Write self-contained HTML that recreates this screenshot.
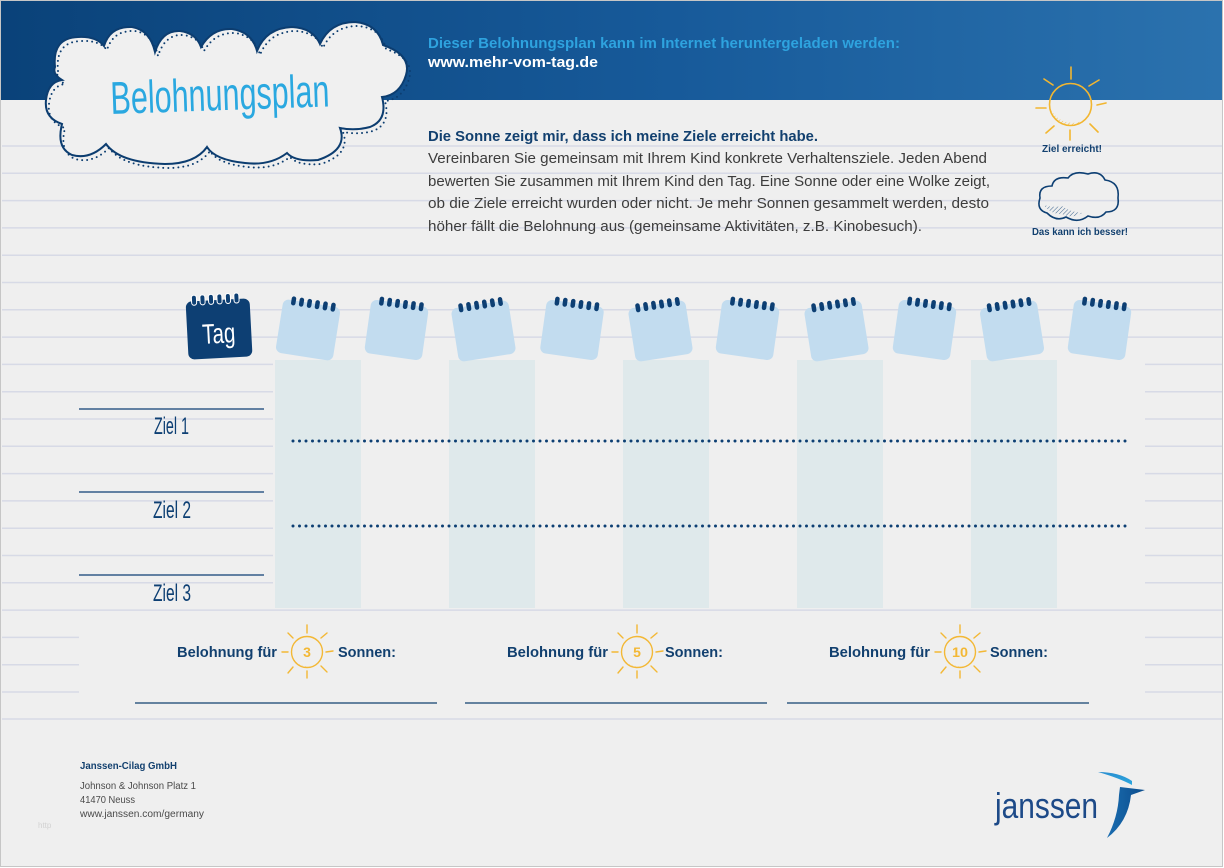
<!DOCTYPE html>
<html><head><meta charset="utf-8"><style>
html,body{margin:0;padding:0;background:#fff;}
svg{display:block;}
text{font-family:"Liberation Sans",sans-serif;}
</style></head><body>
<svg width="1224" height="868" viewBox="0 0 1224 868" xmlns="http://www.w3.org/2000/svg">
<defs>
<linearGradient id="hdr" x1="0" x2="1" y1="0" y2="0">
<stop offset="0" stop-color="#0a4279"/>
<stop offset="0.55" stop-color="#175a9a"/>
<stop offset="1" stop-color="#2b72ae"/>
</linearGradient>
<linearGradient id="sw" x1="0" y1="0" x2="0" y2="1">
<stop offset="0" stop-color="#2a8fd0"/>
<stop offset="1" stop-color="#2ba8e0"/>
</linearGradient>
<linearGradient id="sw2" x1="0" y1="0" x2="1" y2="0">
<stop offset="0" stop-color="#1a6db0"/>
<stop offset="1" stop-color="#0b4c8c"/>
</linearGradient>
<pattern id="hy" patternUnits="userSpaceOnUse" width="3" height="3" patternTransform="rotate(45)">
<line x1="0" y1="0" x2="0" y2="3" stroke="#f2b630" stroke-width="0.9"/>
</pattern>
<pattern id="hn" patternUnits="userSpaceOnUse" width="3" height="3" patternTransform="rotate(45)">
<line x1="0" y1="0" x2="0" y2="3" stroke="#0d3f73" stroke-width="0.8"/>
</pattern>
</defs>

<rect width="1224" height="868" fill="#ffffff"/>
<rect x="0.5" y="0.5" width="1222" height="866" fill="#efefef" stroke="#c6c6c6" stroke-width="1"/>

<rect x="1" y="1" width="1221" height="99" fill="url(#hdr)"/>

<g stroke="#d7dae6" stroke-width="1.5">
<line x1="2" x2="1222" y1="146" y2="146"/>
<line x1="2" x2="1222" y1="173.3" y2="173.3"/>
<line x1="2" x2="1222" y1="200.6" y2="200.6"/>
<line x1="2" x2="1222" y1="227.9" y2="227.9"/>
<line x1="2" x2="1222" y1="255.2" y2="255.2"/>
<line x1="2" x2="1222" y1="282.5" y2="282.5"/>
<line x1="2" x2="1222" y1="309.8" y2="309.8"/>
<line x1="2" x2="1222" y1="337.1" y2="337.1"/>
<line x1="2" x2="1222" y1="364.4" y2="364.4"/>
<line x1="2" x2="1222" y1="391.7" y2="391.7"/>
<line x1="2" x2="1222" y1="419" y2="419"/>
<line x1="2" x2="1222" y1="446.3" y2="446.3"/>
<line x1="2" x2="1222" y1="473.6" y2="473.6"/>
<line x1="2" x2="1222" y1="500.9" y2="500.9"/>
<line x1="2" x2="1222" y1="528.2" y2="528.2"/>
<line x1="2" x2="1222" y1="555.5" y2="555.5"/>
<line x1="2" x2="1222" y1="582.8" y2="582.8"/>
<line x1="2" x2="1222" y1="610.1" y2="610.1"/>
<line x1="2" x2="1222" y1="637.4" y2="637.4"/>
<line x1="2" x2="1222" y1="664.7" y2="664.7"/>
<line x1="2" x2="1222" y1="692" y2="692"/>
<line x1="2" x2="1222" y1="719" y2="719"/>
</g>

<rect x="273" y="346" width="872" height="262" fill="#efefef"/>
<rect x="79" y="613" width="1066" height="103" fill="#efefef"/>

<g fill="#dfe9eb">
<rect x="275" y="360" width="86" height="248"/>
<rect x="449" y="360" width="86" height="248"/>
<rect x="623" y="360" width="86" height="248"/>
<rect x="797" y="360" width="86" height="248"/>
<rect x="971" y="360" width="86" height="248"/>
</g>

<path d="M55,67 Q52,38 78,37 Q96,36 104,46 Q110,26 132,27 Q150,30 155,52 Q162,30 180,31 Q196,33 201,47 Q212,28 232,29 Q252,32 257,51 Q266,28 292,27 Q313,28 320,44 Q330,22 355,22 Q378,24 383,45 Q412,55 406,75 Q400,95 382,97 Q388,120 370,127 Q355,131 340,128 Q348,150 318,160 Q295,162 287,153 Q270,166 245,163 Q215,160 207,147 Q195,164 165,164 Q120,163 106,144 Q90,160 72,155 Q56,148 62,124 Q44,118 46,100 Q48,82 62,80 Q52,74 55,67 Z" fill="#f0f0f0" stroke="#0c3d70" stroke-width="2"/>
<path d="M55,67 Q52,38 78,37 Q96,36 104,46 Q110,26 132,27 Q150,30 155,52 Q162,30 180,31 Q196,33 201,47 Q212,28 232,29 Q252,32 257,51 Q266,28 292,27 Q313,28 320,44 Q330,22 355,22 Q378,24 383,45 Q412,55 406,75 Q400,95 382,97 Q388,120 370,127 Q355,131 340,128 Q348,150 318,160 Q295,162 287,153 Q270,166 245,163 Q215,160 207,147 Q195,164 165,164 Q120,163 106,144 Q90,160 72,155 Q56,148 62,124 Q44,118 46,100 Q48,82 62,80 Q52,74 55,67 Z" fill="none" stroke="#0c3d70" stroke-width="2" stroke-dasharray="0 5" stroke-linecap="round" transform="translate(3,4)"/>
<text x="111" y="114" font-size="46" fill="#2aa8e0" textLength="219" lengthAdjust="spacingAndGlyphs" transform="rotate(-2 111 114)">Belohnungsplan</text>

<text x="428" y="48" font-size="14.5" font-weight="bold" fill="#2ea3df" textLength="472" lengthAdjust="spacingAndGlyphs">Dieser Belohnungsplan kann im Internet heruntergeladen werden:</text>
<text x="428" y="67" font-size="14.5" font-weight="bold" fill="#ffffff" textLength="170" lengthAdjust="spacingAndGlyphs">www.mehr-vom-tag.de</text>

<text x="428" y="141" font-size="15" font-weight="bold" fill="#12406f" textLength="390" lengthAdjust="spacingAndGlyphs">Die Sonne zeigt mir, dass ich meine Ziele erreicht habe.</text>
<g font-size="15" fill="#3c3c3c">
<text x="428" y="163" textLength="559" lengthAdjust="spacingAndGlyphs">Vereinbaren Sie gemeinsam mit Ihrem Kind konkrete Verhaltensziele. Jeden Abend</text>
<text x="428" y="186" textLength="562" lengthAdjust="spacingAndGlyphs">bewerten Sie zusammen mit Ihrem Kind den Tag. Eine Sonne oder eine Wolke zeigt,</text>
<text x="428" y="208" textLength="561" lengthAdjust="spacingAndGlyphs">ob die Ziele erreicht wurden oder nicht. Je mehr  Sonnen gesammelt werden, desto</text>
<text x="428" y="231" textLength="494" lengthAdjust="spacingAndGlyphs">höher fällt die Belohnung aus (gemeinsame Aktivitäten, z.B. Kinobesuch).</text>
</g>

<g stroke="#f2b630" stroke-width="1.6" fill="none" stroke-linecap="round">
<path d="M1051,110 A21 21 0 0 0 1086,119 A25 25 0 0 1 1051,110 Z" fill="url(#hy)" stroke="none"/>
<circle cx="1070.5" cy="104.5" r="21"/>
<line x1="1071" y1="67" x2="1071" y2="79"/>
<line x1="1036" y1="108" x2="1046" y2="108"/>
<line x1="1097" y1="105" x2="1106" y2="103"/>
<line x1="1070" y1="130" x2="1070" y2="140"/>
<line x1="1044" y1="79" x2="1053" y2="85"/>
<line x1="1089" y1="86" x2="1099" y2="80"/>
<line x1="1046" y1="133" x2="1054" y2="126"/>
<line x1="1090" y1="124" x2="1098" y2="132"/>
</g>
<text x="1042" y="152" font-size="10" font-weight="bold" fill="#12406f" textLength="60" lengthAdjust="spacingAndGlyphs">Ziel erreicht!</text>

<path d="M1044,205 Q1050,214 1062,214 Q1072,219 1082,213 Q1070,212 1062,206 Q1052,208 1044,205 Z" fill="url(#hn)"/>
<path d="M1047,213 Q1036,210 1040,198 Q1038,186 1052,186 Q1054,176 1068,178 Q1074,170 1088,174 Q1100,170 1105,180 Q1120,182 1118,198 Q1120,212 1106,212 Q1100,220 1088,216 Q1078,224 1066,217 Q1056,222 1047,213 Z" fill="none" stroke="#0d3f73" stroke-width="1.6"/>
<text x="1032" y="235" font-size="10" font-weight="bold" fill="#12406f" textLength="96" lengthAdjust="spacingAndGlyphs">Das kann ich besser!</text>

<g transform="translate(219,328) rotate(-3)">
<rect x="-32" y="-28" width="64" height="58" rx="6" fill="#0d3f73"/>
<g fill="#0d3f73" stroke="#ffffff" stroke-width="1">
<rect x="-26" y="-34" width="5" height="10" rx="2.5"/>
<rect x="-17.5" y="-34" width="5" height="10" rx="2.5"/>
<rect x="-9" y="-34" width="5" height="10" rx="2.5"/>
<rect x="-0.5" y="-34" width="5" height="10" rx="2.5"/>
<rect x="8" y="-34" width="5" height="10" rx="2.5"/>
<rect x="16.5" y="-34" width="5" height="10" rx="2.5"/>
</g>
<text x="-17" y="15" font-size="28" fill="#ffffff" textLength="33" lengthAdjust="spacingAndGlyphs">Tag</text>
</g>

<g transform="translate(308,330) rotate(9)">
<rect x="-29" y="-27" width="58" height="54" rx="6" fill="#c2dcef"/>
<g fill="#0d3f73"><rect x="-21" y="-31" width="4.5" height="9" rx="2.2"/><rect x="-13" y="-31" width="4.5" height="9" rx="2.2"/><rect x="-5" y="-31" width="4.5" height="9" rx="2.2"/><rect x="3" y="-31" width="4.5" height="9" rx="2.2"/><rect x="11" y="-31" width="4.5" height="9" rx="2.2"/><rect x="19" y="-31" width="4.5" height="9" rx="2.2"/></g>
</g>
<g transform="translate(396.5,330) rotate(8)">
<rect x="-29" y="-27" width="58" height="54" rx="6" fill="#c2dcef"/>
<g fill="#0d3f73"><rect x="-21" y="-31" width="4.5" height="9" rx="2.2"/><rect x="-13" y="-31" width="4.5" height="9" rx="2.2"/><rect x="-5" y="-31" width="4.5" height="9" rx="2.2"/><rect x="3" y="-31" width="4.5" height="9" rx="2.2"/><rect x="11" y="-31" width="4.5" height="9" rx="2.2"/><rect x="19" y="-31" width="4.5" height="9" rx="2.2"/></g>
</g>
<g transform="translate(483.5,331) rotate(-9)">
<rect x="-29" y="-27" width="58" height="54" rx="6" fill="#c2dcef"/>
<g fill="#0d3f73"><rect x="-21" y="-31" width="4.5" height="9" rx="2.2"/><rect x="-13" y="-31" width="4.5" height="9" rx="2.2"/><rect x="-5" y="-31" width="4.5" height="9" rx="2.2"/><rect x="3" y="-31" width="4.5" height="9" rx="2.2"/><rect x="11" y="-31" width="4.5" height="9" rx="2.2"/><rect x="19" y="-31" width="4.5" height="9" rx="2.2"/></g>
</g>
<g transform="translate(572,330) rotate(8)">
<rect x="-29" y="-27" width="58" height="54" rx="6" fill="#c2dcef"/>
<g fill="#0d3f73"><rect x="-21" y="-31" width="4.5" height="9" rx="2.2"/><rect x="-13" y="-31" width="4.5" height="9" rx="2.2"/><rect x="-5" y="-31" width="4.5" height="9" rx="2.2"/><rect x="3" y="-31" width="4.5" height="9" rx="2.2"/><rect x="11" y="-31" width="4.5" height="9" rx="2.2"/><rect x="19" y="-31" width="4.5" height="9" rx="2.2"/></g>
</g>
<g transform="translate(660.5,331) rotate(-9)">
<rect x="-29" y="-27" width="58" height="54" rx="6" fill="#c2dcef"/>
<g fill="#0d3f73"><rect x="-21" y="-31" width="4.5" height="9" rx="2.2"/><rect x="-13" y="-31" width="4.5" height="9" rx="2.2"/><rect x="-5" y="-31" width="4.5" height="9" rx="2.2"/><rect x="3" y="-31" width="4.5" height="9" rx="2.2"/><rect x="11" y="-31" width="4.5" height="9" rx="2.2"/><rect x="19" y="-31" width="4.5" height="9" rx="2.2"/></g>
</g>
<g transform="translate(747.5,330) rotate(8)">
<rect x="-29" y="-27" width="58" height="54" rx="6" fill="#c2dcef"/>
<g fill="#0d3f73"><rect x="-21" y="-31" width="4.5" height="9" rx="2.2"/><rect x="-13" y="-31" width="4.5" height="9" rx="2.2"/><rect x="-5" y="-31" width="4.5" height="9" rx="2.2"/><rect x="3" y="-31" width="4.5" height="9" rx="2.2"/><rect x="11" y="-31" width="4.5" height="9" rx="2.2"/><rect x="19" y="-31" width="4.5" height="9" rx="2.2"/></g>
</g>
<g transform="translate(836.5,331) rotate(-9)">
<rect x="-29" y="-27" width="58" height="54" rx="6" fill="#c2dcef"/>
<g fill="#0d3f73"><rect x="-21" y="-31" width="4.5" height="9" rx="2.2"/><rect x="-13" y="-31" width="4.5" height="9" rx="2.2"/><rect x="-5" y="-31" width="4.5" height="9" rx="2.2"/><rect x="3" y="-31" width="4.5" height="9" rx="2.2"/><rect x="11" y="-31" width="4.5" height="9" rx="2.2"/><rect x="19" y="-31" width="4.5" height="9" rx="2.2"/></g>
</g>
<g transform="translate(924.5,330) rotate(8)">
<rect x="-29" y="-27" width="58" height="54" rx="6" fill="#c2dcef"/>
<g fill="#0d3f73"><rect x="-21" y="-31" width="4.5" height="9" rx="2.2"/><rect x="-13" y="-31" width="4.5" height="9" rx="2.2"/><rect x="-5" y="-31" width="4.5" height="9" rx="2.2"/><rect x="3" y="-31" width="4.5" height="9" rx="2.2"/><rect x="11" y="-31" width="4.5" height="9" rx="2.2"/><rect x="19" y="-31" width="4.5" height="9" rx="2.2"/></g>
</g>
<g transform="translate(1012,331) rotate(-9)">
<rect x="-29" y="-27" width="58" height="54" rx="6" fill="#c2dcef"/>
<g fill="#0d3f73"><rect x="-21" y="-31" width="4.5" height="9" rx="2.2"/><rect x="-13" y="-31" width="4.5" height="9" rx="2.2"/><rect x="-5" y="-31" width="4.5" height="9" rx="2.2"/><rect x="3" y="-31" width="4.5" height="9" rx="2.2"/><rect x="11" y="-31" width="4.5" height="9" rx="2.2"/><rect x="19" y="-31" width="4.5" height="9" rx="2.2"/></g>
</g>
<g transform="translate(1099.5,330) rotate(8)">
<rect x="-29" y="-27" width="58" height="54" rx="6" fill="#c2dcef"/>
<g fill="#0d3f73"><rect x="-21" y="-31" width="4.5" height="9" rx="2.2"/><rect x="-13" y="-31" width="4.5" height="9" rx="2.2"/><rect x="-5" y="-31" width="4.5" height="9" rx="2.2"/><rect x="3" y="-31" width="4.5" height="9" rx="2.2"/><rect x="11" y="-31" width="4.5" height="9" rx="2.2"/><rect x="19" y="-31" width="4.5" height="9" rx="2.2"/></g>
</g>

<g stroke="#0d3f73" stroke-width="1.3">
<line x1="79" x2="264" y1="409" y2="409"/>
<line x1="79" x2="264" y1="492" y2="492"/>
<line x1="79" x2="264" y1="575" y2="575"/>
</g>
<g font-size="24" fill="#0d3f73">
<text x="154" y="434" textLength="35" lengthAdjust="spacingAndGlyphs">Ziel 1</text>
<text x="153" y="518" textLength="38" lengthAdjust="spacingAndGlyphs">Ziel 2</text>
<text x="153" y="601" textLength="38" lengthAdjust="spacingAndGlyphs">Ziel 3</text>
</g>

<g stroke="#0d3f73" stroke-width="3" stroke-linecap="round" stroke-dasharray="0 6.5">
<line x1="293" x2="1127" y1="441" y2="441"/>
<line x1="293" x2="1127" y1="526" y2="526"/>
</g>

<g font-size="14.5" font-weight="bold" fill="#12406f">
<text x="177" y="657" textLength="100" lengthAdjust="spacingAndGlyphs">Belohnung für</text>
<text x="338" y="657" textLength="58" lengthAdjust="spacingAndGlyphs">Sonnen:</text>
<text x="507" y="657" textLength="101" lengthAdjust="spacingAndGlyphs">Belohnung für</text>
<text x="665" y="657" textLength="58" lengthAdjust="spacingAndGlyphs">Sonnen:</text>
<text x="829" y="657" textLength="101" lengthAdjust="spacingAndGlyphs">Belohnung für</text>
<text x="990" y="657" textLength="58" lengthAdjust="spacingAndGlyphs">Sonnen:</text>
</g>
<g stroke="#12406f" stroke-width="1.3">
<line x1="135" x2="437" y1="703" y2="703"/>
<line x1="465" x2="767" y1="703" y2="703"/>
<line x1="787" x2="1089" y1="703" y2="703"/>
</g>

<g transform="translate(307,652)">
<path d="M-15,4 A15.5 15.5 0 0 0 9,13 A18 18 0 0 1 -15,4 Z" fill="url(#hy)"/>
<g stroke="#f3b835" stroke-width="1.4" fill="none" stroke-linecap="round">
<circle r="15.5"/>
<line x1="0" y1="-19" x2="0" y2="-27"/>
<line x1="0" y1="19" x2="0" y2="26"/>
<line x1="-19" y1="0" x2="-25" y2="0"/>
<line x1="19" y1="0" x2="26" y2="-1"/>
<line x1="-14" y1="-14" x2="-19" y2="-19"/>
<line x1="14" y1="-14" x2="20" y2="-19"/>
<line x1="-14" y1="15" x2="-19" y2="21"/>
<line x1="14" y1="14" x2="20" y2="20"/>
</g>
<text x="0" y="5" font-size="14" font-weight="bold" fill="#f3b835" text-anchor="middle">3</text>
</g>
<g transform="translate(637,652)">
<path d="M-15,4 A15.5 15.5 0 0 0 9,13 A18 18 0 0 1 -15,4 Z" fill="url(#hy)"/>
<g stroke="#f3b835" stroke-width="1.4" fill="none" stroke-linecap="round">
<circle r="15.5"/>
<line x1="0" y1="-19" x2="0" y2="-27"/>
<line x1="0" y1="19" x2="0" y2="26"/>
<line x1="-19" y1="0" x2="-25" y2="0"/>
<line x1="19" y1="0" x2="26" y2="-1"/>
<line x1="-14" y1="-14" x2="-19" y2="-19"/>
<line x1="14" y1="-14" x2="20" y2="-19"/>
<line x1="-14" y1="15" x2="-19" y2="21"/>
<line x1="14" y1="14" x2="20" y2="20"/>
</g>
<text x="0" y="5" font-size="14" font-weight="bold" fill="#f3b835" text-anchor="middle">5</text>
</g>
<g transform="translate(960,652)">
<path d="M-15,4 A15.5 15.5 0 0 0 9,13 A18 18 0 0 1 -15,4 Z" fill="url(#hy)"/>
<g stroke="#f3b835" stroke-width="1.4" fill="none" stroke-linecap="round">
<circle r="15.5"/>
<line x1="0" y1="-19" x2="0" y2="-27"/>
<line x1="0" y1="19" x2="0" y2="26"/>
<line x1="-19" y1="0" x2="-25" y2="0"/>
<line x1="19" y1="0" x2="26" y2="-1"/>
<line x1="-14" y1="-14" x2="-19" y2="-19"/>
<line x1="14" y1="-14" x2="20" y2="-19"/>
<line x1="-14" y1="15" x2="-19" y2="21"/>
<line x1="14" y1="14" x2="20" y2="20"/>
</g>
<text x="0" y="5" font-size="14" font-weight="bold" fill="#f3b835" text-anchor="middle" textLength="16" lengthAdjust="spacingAndGlyphs">10</text>
</g>

<text x="80" y="769" font-size="10" font-weight="bold" fill="#12406f" textLength="97" lengthAdjust="spacingAndGlyphs">Janssen-Cilag GmbH</text>
<g font-size="10" fill="#4a4a4a">
<text x="80" y="789" textLength="116" lengthAdjust="spacingAndGlyphs">Johnson &amp; Johnson Platz 1</text>
<text x="80" y="803" textLength="55" lengthAdjust="spacingAndGlyphs">41470 Neuss</text>
<text x="80" y="817" textLength="124" lengthAdjust="spacingAndGlyphs">www.janssen.com/germany</text>
</g>
<text x="38" y="828" font-size="8" fill="#d2d2d2">http</text>

<text x="995" y="818" font-size="36" fill="#1d4a88" textLength="103" lengthAdjust="spacingAndGlyphs">janssen</text>
<path d="M1098,772 Q1119,772 1132,781 L1132,785 Q1119,778 1098,772 Z" fill="url(#sw)"/>
<path d="M1120,787 L1145,790 L1131,795 Q1128,822 1107,838 Q1118,817 1119,795 Z" fill="url(#sw2)"/>
</svg>
</body></html>
